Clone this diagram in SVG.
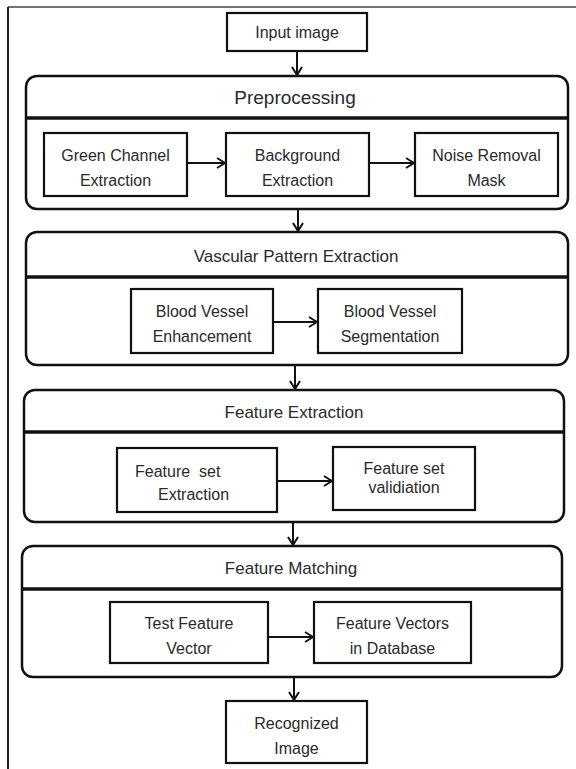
<svg xmlns="http://www.w3.org/2000/svg" width="576" height="769" viewBox="0 0 576 769">
<style>
  .grp { fill: #fff; stroke: #111; stroke-width: 2.5; }
  .div { stroke: #111; stroke-width: 3.5; }
  .box { fill: #fff; stroke: #111; stroke-width: 2.2; }
  .t { font-family: "Liberation Sans", Arial, sans-serif; font-size: 16px; fill: #2a2a2a; text-anchor: middle; }
  .h { font-family: "Liberation Sans", Arial, sans-serif; font-size: 17px; fill: #2a2a2a; text-anchor: middle; }
  .conn line { stroke: #111; stroke-width: 2; }
</style>
<defs>
  <marker id="ah" viewBox="0 0 10 12" refX="9" refY="6" markerWidth="10" markerHeight="12" markerUnits="userSpaceOnUse" orient="auto">
    <path d="M1,1 L9,6 L1,11" fill="none" stroke="#111" stroke-width="2"/>
  </marker>
</defs>
<rect width="576" height="769" fill="#fff"/>
<g id="frame">
  <line x1="8" y1="7" x2="576" y2="7" stroke="#444" stroke-width="1.5"/>
  <line x1="8" y1="7" x2="8" y2="769" stroke="#222" stroke-width="2"/>
</g>

<g id="input-image">
  <rect class="box" x="227" y="13" width="140" height="38"/>
  <text class="t" x="297" y="38">Input image</text>
</g>

<g id="preprocessing">
  <rect class="grp" x="26" y="76" width="542" height="133" rx="11"/>
  <line class="div" x1="26" y1="118" x2="568" y2="118"/>
  <text class="h" x="295" y="104" style="font-size:19px">Preprocessing</text>
</g>
<g id="green-channel">
  <rect class="box" x="44" y="133" width="143" height="63"/>
  <text class="t" x="115.5" y="161">Green Channel</text>
  <text class="t" x="115.5" y="186">Extraction</text>
</g>
<g id="background-extraction">
  <rect class="box" x="226" y="133" width="143" height="63"/>
  <text class="t" x="297.5" y="161">Background</text>
  <text class="t" x="297.5" y="186">Extraction</text>
</g>
<g id="noise-removal">
  <rect class="box" x="415" y="133" width="143" height="63"/>
  <text class="t" x="486.5" y="161">Noise Removal</text>
  <text class="t" x="486.5" y="186">Mask</text>
</g>

<g id="vascular">
  <rect class="grp" x="26" y="232" width="542" height="133" rx="11"/>
  <line class="div" x1="26" y1="277" x2="568" y2="277"/>
  <text class="h" x="296" y="262">Vascular Pattern Extraction</text>
</g>
<g id="bv-enhancement">
  <rect class="box" x="131" y="289" width="142" height="64"/>
  <text class="t" x="202" y="317">Blood Vessel</text>
  <text class="t" x="202" y="342">Enhancement</text>
</g>
<g id="bv-segmentation">
  <rect class="box" x="318" y="289" width="144" height="64"/>
  <text class="t" x="390" y="317">Blood Vessel</text>
  <text class="t" x="390" y="342">Segmentation</text>
</g>

<g id="feature-extraction">
  <rect class="grp" x="24" y="390" width="540" height="132" rx="11"/>
  <line class="div" x1="24" y1="432" x2="564" y2="432"/>
  <text class="h" x="294" y="418">Feature Extraction</text>
</g>
<g id="feature-set-extraction">
  <rect class="box" x="117" y="448" width="160" height="64"/>
  <text class="t" x="135" y="477" style="text-anchor:start" xml:space="preserve">Feature  set</text>
  <text class="t" x="158" y="500" style="text-anchor:start">Extraction</text>
</g>
<g id="feature-set-validation">
  <rect class="box" x="333" y="447" width="142" height="63"/>
  <text class="t" x="404" y="474">Feature set</text>
  <text class="t" x="404" y="493">validiation</text>
</g>

<g id="feature-matching">
  <rect class="grp" x="22" y="546" width="540" height="131" rx="11"/>
  <line class="div" x1="22" y1="589" x2="562" y2="589"/>
  <text class="h" x="291" y="574">Feature Matching</text>
</g>
<g id="test-feature-vector">
  <rect class="box" x="110" y="602" width="158" height="61"/>
  <text class="t" x="189" y="629">Test Feature</text>
  <text class="t" x="189" y="654">Vector</text>
</g>
<g id="feature-vectors-db">
  <rect class="box" x="314" y="602" width="157" height="61"/>
  <text class="t" x="392.5" y="629">Feature Vectors</text>
  <text class="t" x="392.5" y="654">in Database</text>
</g>

<g id="recognized-image">
  <rect class="box" x="226" y="701" width="141" height="62"/>
  <text class="t" x="296.5" y="729">Recognized</text>
  <text class="t" x="296.5" y="754">Image</text>
</g>

<g id="connectors" class="conn">
  <line x1="297" y1="51" x2="297" y2="75" marker-end="url(#ah)"/>
  <line x1="187" y1="163" x2="225" y2="163" marker-end="url(#ah)"/>
  <line x1="369" y1="163" x2="414" y2="163" marker-end="url(#ah)"/>
  <line x1="298" y1="209" x2="298" y2="231" marker-end="url(#ah)"/>
  <line x1="273" y1="322" x2="317" y2="322" marker-end="url(#ah)"/>
  <line x1="295" y1="365" x2="295" y2="389" marker-end="url(#ah)"/>
  <line x1="277" y1="481" x2="332" y2="481" marker-end="url(#ah)"/>
  <line x1="293" y1="522" x2="293" y2="545" marker-end="url(#ah)"/>
  <line x1="268" y1="637" x2="313" y2="637" marker-end="url(#ah)"/>
  <line x1="294" y1="677" x2="294" y2="700" marker-end="url(#ah)"/>
</g>
</svg>
